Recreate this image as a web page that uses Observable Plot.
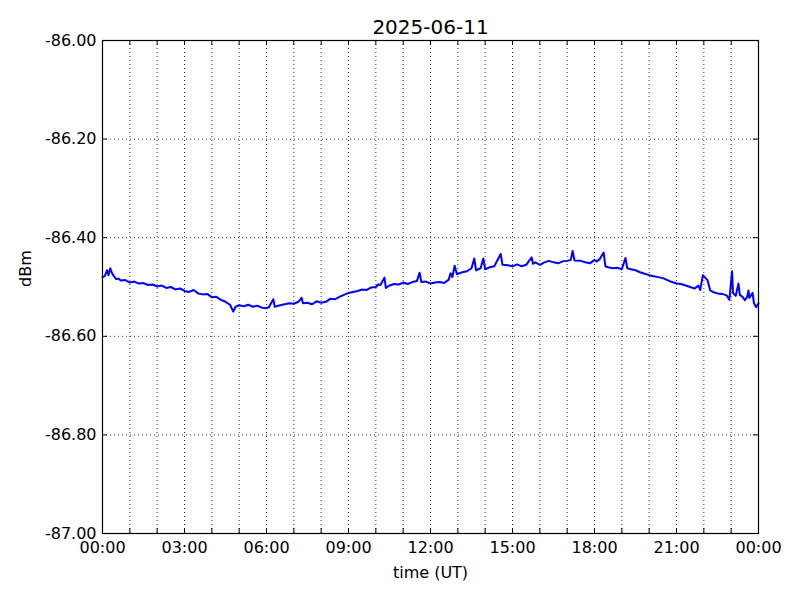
<!DOCTYPE html>
<html>
<head>
<meta charset="utf-8">
<script src="https://cdn.jsdelivr.net/npm/d3@7"></script>
<script src="https://cdn.jsdelivr.net/npm/@observablehq/plot@0.6"></script>
<style>
  html, body { margin: 0; padding: 0; background: #fff; }
</style>
</head>
<body>
<div id="chart"></div>
<script>
const title = "2025-06-11";
const xLabel = "time (UT)";
const yLabel = "dBm";

const times = ["00:00","00:05","00:10","00:13","00:17","00:20","00:25","00:30","00:35","00:40","00:50",
"01:00","01:10","01:20","01:30","01:40","01:50","02:00","02:10","02:20","02:30","02:40","02:50",
"03:00","03:10","03:20","03:30","03:40","03:50","04:00","04:10","04:20","04:30","04:40","04:47","04:52",
"05:00","05:10","05:20","05:30","05:40","05:50","06:00","06:05","06:15","06:18","06:30","06:40","06:50",
"07:00","07:10","07:17","07:20","07:30","07:40","07:50","08:00","08:10","08:20","08:30","08:40","08:50",
"09:00","09:10","09:20","09:30","09:40","09:50","10:00","10:05","10:10","10:19","10:22","10:30","10:40","10:50",
"11:00","11:10","11:20","11:30","11:36","11:40","11:50","12:00","12:10","12:20","12:30","12:40","12:44","12:48","12:53","12:58",
"13:10","13:20","13:30","13:36","13:40","13:50","13:56","14:00","14:10","14:20","14:34","14:38","14:50",
"15:00","15:10","15:20","15:30","15:42","15:45","15:50","16:00","16:10","16:20","16:30","16:40","16:50",
"17:00","17:08","17:12","17:16","17:30","17:40","17:50","18:00","18:05","18:11","18:20","18:24","18:30","18:40","18:50",
"19:00","19:08","19:12","19:20","19:30","19:40","19:50","20:00","20:10","20:20","20:30","20:40","20:50",
"21:00","21:10","21:20","21:30","21:40","21:48","21:52","21:58","22:02","22:08","22:14","22:20","22:30","22:40","22:50","22:56",
"23:02","23:04","23:10","23:16","23:19","23:25","23:30","23:35","23:38","23:40","23:47","23:50","23:55","24:00"];

const dbm = [-86.480,-86.478,-86.466,-86.476,-86.462,-86.470,-86.478,-86.484,-86.483,-86.487,-86.486,
-86.491,-86.489,-86.493,-86.492,-86.496,-86.495,-86.499,-86.497,-86.502,-86.500,-86.505,-86.503,
-86.508,-86.510,-86.506,-86.513,-86.515,-86.514,-86.521,-86.520,-86.526,-86.530,-86.536,-86.550,-86.540,
-86.537,-86.539,-86.536,-86.540,-86.538,-86.542,-86.543,-86.541,-86.525,-86.540,-86.537,-86.535,-86.533,
-86.534,-86.530,-86.522,-86.533,-86.532,-86.535,-86.529,-86.532,-86.530,-86.524,-86.525,-86.520,-86.516,
-86.512,-86.510,-86.508,-86.505,-86.506,-86.501,-86.500,-86.495,-86.496,-86.481,-86.502,-86.497,-86.494,-86.495,
-86.491,-86.494,-86.490,-86.488,-86.471,-86.490,-86.489,-86.493,-86.491,-86.490,-86.492,-86.485,-86.472,-86.480,-86.457,-86.474,
-86.470,-86.468,-86.462,-86.442,-86.466,-86.462,-86.442,-86.464,-86.460,-86.458,-86.433,-86.455,-86.456,
-86.458,-86.454,-86.458,-86.455,-86.440,-86.453,-86.450,-86.455,-86.450,-86.447,-86.450,-86.452,-86.448,
-86.447,-86.445,-86.427,-86.446,-86.447,-86.450,-86.452,-86.445,-86.448,-86.444,-86.430,-86.458,-86.460,-86.462,-86.461,
-86.464,-86.441,-86.462,-86.464,-86.466,-86.470,-86.473,-86.476,-86.478,-86.480,-86.482,-86.486,-86.490,
-86.493,-86.494,-86.497,-86.500,-86.503,-86.497,-86.506,-86.476,-86.480,-86.486,-86.507,-86.510,-86.513,-86.514,-86.517,-86.526,
-86.468,-86.512,-86.518,-86.493,-86.516,-86.520,-86.527,-86.520,-86.507,-86.522,-86.512,-86.533,-86.541,-86.533];

const xTickHours = [0, 3, 6, 9, 12, 15, 18, 21, 24];
const xTickLabels = ["00:00","03:00","06:00","09:00","12:00","15:00","18:00","21:00","00:00"];
const hourGrid = d3.range(0, 25);
const yTicks = [-87.0, -86.8, -86.6, -86.4, -86.2, -86.0];

const toHours = s => { const [h, m] = s.split(":").map(Number); return h + m / 60; };
const data = times.map((t, i) => ({hour: toHours(t), value: dbm[i]}));

const W = 800, H = 600;
const mL = 102, mR = 42, mT = 40, mB = 67;
const fw = W - mL - mR, fh = H - mT - mB;
const tick = 5;

const chart = Plot.plot({
  width: W,
  height: H,
  marginLeft: mL,
  marginRight: mR,
  marginTop: mT,
  marginBottom: mB,
  style: {fontFamily: "'DejaVu Sans', sans-serif", fontSize: "16px", background: "#fff", color: "#000"},
  x: {type: "linear", domain: [0, 24]},
  y: {type: "linear", domain: [-87, -86]},
  marks: [
    Plot.gridX(hourGrid, {stroke: "#000", strokeOpacity: 0.8, strokeWidth: 1, strokeDasharray: "1,3"}),
    Plot.gridY(yTicks, {stroke: "#000", strokeOpacity: 0.8, strokeWidth: 1, strokeDasharray: "1,3"}),
    Plot.ruleX(hourGrid, {x: d => d, insetTop: fh - tick, stroke: "#000"}),
    Plot.ruleX(hourGrid, {x: d => d, insetBottom: fh - tick, stroke: "#000"}),
    Plot.ruleY(yTicks, {y: d => d, insetRight: fw - tick, stroke: "#000"}),
    Plot.ruleY(yTicks, {y: d => d, insetLeft: fw - tick, stroke: "#000"}),
    Plot.line(data, {x: "hour", y: "value", stroke: "#0000ff", strokeWidth: 2, strokeLinejoin: "round"}),
    Plot.frame({stroke: "#000", strokeWidth: 1.2}),
    Plot.axisX(xTickHours, {tickSize: 0, tickPadding: 8, fontSize: 16, label: null,
      tickFormat: (d) => xTickLabels[xTickHours.indexOf(d)]}),
    Plot.axisY(yTicks, {tickSize: 0, tickPadding: 6, fontSize: 16, label: null,
      tickFormat: d => d.toFixed(2)}),
    Plot.text([title], {frameAnchor: "top", dy: -21, fontSize: 20, fill: "#000"}),
    Plot.text([xLabel], {frameAnchor: "bottom", dy: 44, fontSize: 16, fill: "#000"}),
    Plot.text([yLabel], {frameAnchor: "left", dx: -77, rotate: -90, fontSize: 16, fill: "#000"})
  ]
});
document.getElementById("chart").appendChild(chart);
</script>
</body>
</html>
